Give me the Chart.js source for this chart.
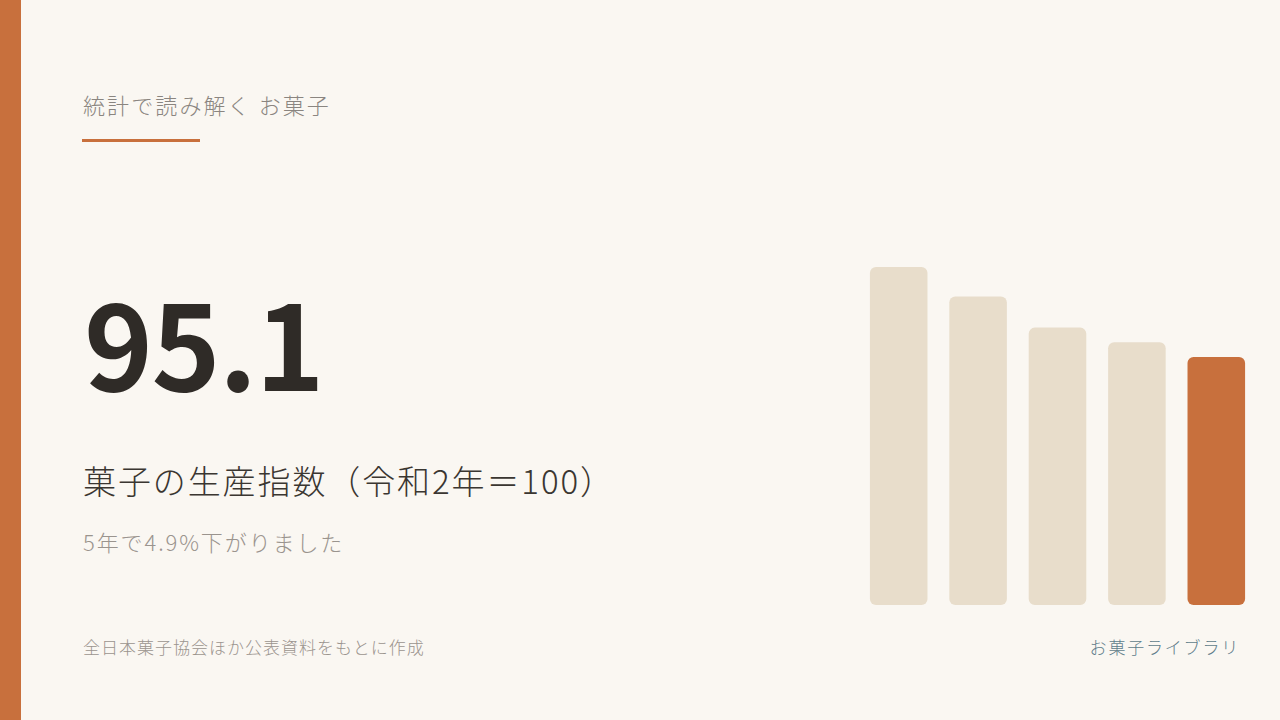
<html lang="ja">
<head>
    <meta charset="utf-8">
    <title>菓子の生産指数</title>
    <style>
        body { margin: 0; width: 1280px; height: 720px; background: #faf7f2; position: relative; overflow: hidden;
               font-family: "Noto Sans CJK JP", "Noto Sans", sans-serif; }
        .strip { position: absolute; left: 0; top: 0; width: 21px; height: 720px; background: #c8703d; }
        .kicker { position: absolute; left: 83px; top: 88px; font-size: 22px; font-weight: 300; color: #8a8580; letter-spacing: 2.1px; }
        .rule { position: absolute; left: 82px; top: 139px; width: 118px; height: 3px; background: #c8703d; }
        .big { position: absolute; left: 84px; top: 270px; font-size: 117px; font-weight: 700; color: #2f2b27; line-height: 1.2; letter-spacing: -1.5px; }
        .label { position: absolute; left: 83px; top: 456px; font-size: 33px; font-weight: 300; color: #3a3631; letter-spacing: 1.9px; }
        .note { position: absolute; left: 83px; top: 525px; font-size: 22px; font-weight: 300; color: #9a948e; letter-spacing: 1.9px; }
        .src { position: absolute; left: 83px; top: 634px; font-size: 17px; font-weight: 300; color: #9a948e; letter-spacing: 1px; }
        .brand { position: absolute; right: 40px; top: 634px; font-size: 17px; font-weight: 300; color: #5f7d8a; letter-spacing: 1.8px; }
        #barWrap { position: absolute; left: 859px; top: 267px; width: 397px; height: 338px; }
    </style>
</head>

<body>
    <div class="strip"></div>
    <div class="kicker">統計で読み解く お菓子</div>
    <div class="rule"></div>
    <div class="big">95.1</div>
    <div class="label">菓子の生産指数（令和2年＝100）</div>
    <div class="note">5年で4.9%下がりました</div>
    <div class="src">全日本菓子協会ほか公表資料をもとに作成</div>
    <div class="brand">お菓子ライブラリ</div>

    <!--    Chart   -->
    <div id="barWrap"><canvas id="indexChart"></canvas></div>

    <script src="https://cdn.jsdelivr.net/npm/chart.js"></script>
    <script>
        // production index, 令和2年 = 100
        const years = ['令和2年', '令和3年', '令和4年', '令和5年', '令和6年'];
        const index_values = [100.0, 98.4, 96.7, 95.9, 95.1];
        const bar_colors = ['#e8ddcb', '#e8ddcb', '#e8ddcb', '#e8ddcb', '#c8703d'];
        const y_floor = 81.6;

        const idx_c = document.getElementById('indexChart');
        const indexChart = new Chart(idx_c, {
            type: 'bar',
            data: {
                labels: years,
                datasets: [{
                    label: '生産指数',
                    data: index_values,
                    base: y_floor,
                    backgroundColor: bar_colors,
                    borderRadius: 6,
                    borderSkipped: false,
                    categoryPercentage: 1.0,
                    barPercentage: 0.725
                }],
            },
            options: {
                responsive: true,
                maintainAspectRatio: false,
                animation: false,
                layout: { padding: 0 },
                plugins: {
                    legend: { display: false },
                    tooltip: { enabled: false }
                },
                scales: {
                    x: { display: false },
                    y: { display: false, min: y_floor, max: 100 }
                }
            }
        });
    </script>
</body>
</html>
